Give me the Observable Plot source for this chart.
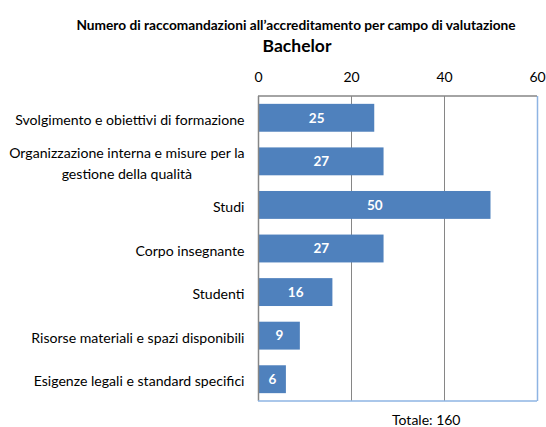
<!DOCTYPE html>
<html>
<head>
<meta charset="utf-8">
<script src="https://cdn.jsdelivr.net/npm/d3@7"></script>
<script src="https://cdn.jsdelivr.net/npm/@observablehq/plot@0.6"></script>
<style>
  body { margin: 0; background: #fff; font-family: Lato, "Open Sans", sans-serif; }
  #wrap { position: relative; width: 546px; height: 427px; }
  #t1 { position: absolute; top: 16px; left: 0; width: 592px; text-align: center; font-weight: bold; font-size: 13.7px; color: #000; }
  #t2 { position: absolute; top: 35px; left: 0; width: 594px; text-align: center; font-weight: bold; font-size: 17.5px; color: #000; }
  #chart { position: absolute; top: 0; left: 0; }
</style>
</head>
<body>
<div id="wrap">
  <div id="chart"></div>
  <div id="t1">Numero di raccomandazioni all’accreditamento per campo di valutazione</div>
  <div id="t2">Bachelor</div>
</div>
<script>
const categories = [
  "Svolgimento e obiettivi di formazione",
  "Organizzazione interna e misure per la\ngestione della qualità",
  "Studi",
  "Corpo insegnante",
  "Studenti",
  "Risorse materiali e spazi disponibili",
  "Esigenze legali e standard specifici"
];
const values = [25, 27, 50, 27, 16, 9, 6];
const xTicks = [0, 20, 40, 60];
const totalLabel = "Totale: 160";

const data = categories.map((c, i) => ({cat: c, value: values[i]}));

const chart = Plot.plot({
  width: 546,
  height: 427,
  marginTop: 96,
  marginBottom: 26,
  marginLeft: 258,
  marginRight: 9,
  style: {fontFamily: "Lato, 'Open Sans', sans-serif", fontSize: "13px", color: "#000", background: "#fff"},
  x: {domain: [0, 60], ticks: xTicks, axis: "top", tickSize: 0, tickPadding: 15, label: null},
  y: {domain: categories, paddingInner: 0.36, paddingOuter: 0.18, round: false, axis: null, label: null},
  marks: [
    Plot.ruleX([20, 40], {stroke: "#868686", strokeWidth: 1}),
    Plot.barX(data, {y: "cat", x: "value", fill: "#4f81bd"}),
    Plot.ruleX([0], {stroke: "#868686", strokeWidth: 1.5}),
    Plot.ruleX([60], {stroke: "#8eb4e3", strokeWidth: 1.5}),
    Plot.text(data, {y: "cat", x: d => d.value / 2, text: d => String(d.value), fill: "#fff", fontWeight: "bold", fontSize: 13.5}),
    Plot.text(data, {y: "cat", x: 0, text: "cat", textAnchor: "end", dx: -14, lineHeight: 1.45, fontSize: 14.1, fill: "#000"}),
    Plot.text([totalLabel], {frameAnchor: "bottom-right", text: d => d, dy: 23, dx: -77, fontSize: 14, fill: "#000"})
  ]
});

const svg = d3.select(chart.tagName === "svg" ? chart : chart.querySelector("svg"));
svg.append("line").attr("x1", 258).attr("x2", 537).attr("y1", 96).attr("y2", 96)
  .attr("stroke", "#868686").attr("stroke-width", 1.5);
svg.append("line").attr("x1", 258).attr("x2", 537).attr("y1", 401).attr("y2", 401)
  .attr("stroke", "#8eb4e3").attr("stroke-width", 1.5);

document.getElementById("chart").appendChild(chart);

// center multi-line category labels like the original
svg.selectAll("text").each(function() {
  const tspans = this.querySelectorAll("tspan");
  if (tspans.length > 1) {
    let w = 0;
    tspans.forEach(t => { w = Math.max(w, t.getComputedTextLength()); });
    this.setAttribute("text-anchor", "middle");
    tspans.forEach(t => t.setAttribute("x", -w / 2));
  }
});
svg.selectAll("[aria-label='x-axis tick label'] text, [aria-label='x-axis'] text").attr("font-size", 14);
</script>
</body>
</html>
